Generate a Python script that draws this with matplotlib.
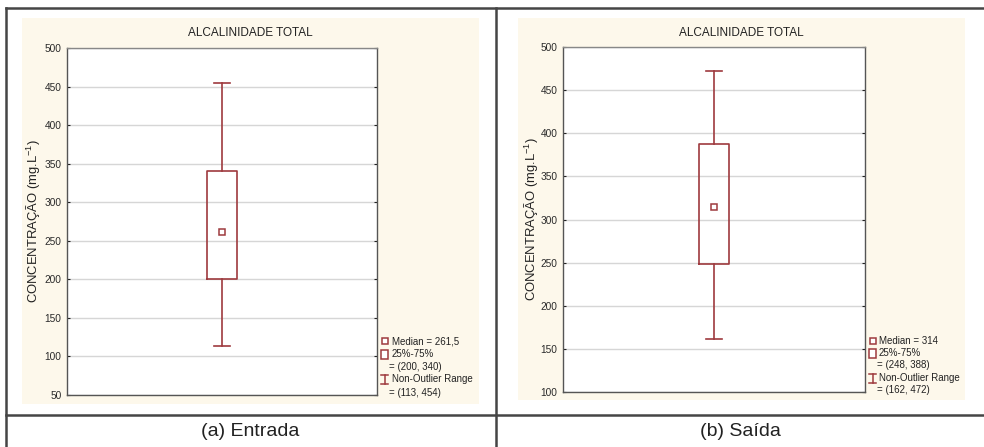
import matplotlib
matplotlib.use("Agg")
import matplotlib.pyplot as plt
from matplotlib.patches import Rectangle
from matplotlib.lines import Line2D

plt.rcParams['font.family'] = ['Liberation Sans', 'DejaVu Sans']

# data
panels = ['(a) Entrada', '(b) Saída']
chart_title = 'ALCALINIDADE TOTAL'
y_label = r'CONCENTRAÇÃO (mg.L$\mathregular{^{-1}}$)'
medians = [261.5, 314]
q1 = [200, 248]
q3 = [340, 388]
whisker_lo = [113, 162]
whisker_hi = [454, 472]
median_labels = ['261,5', '314']
ylims = [(50, 500), (100, 500)]
yticks = [list(range(50, 501, 50)), list(range(100, 501, 50))]

RED = '#9e3a3e'
CREAM = '#fdf8eb'
W, H = 984, 447


def fx(px):
    return px / W


def fy(py):
    return 1 - py / H


fig = plt.figure(figsize=(9.84, 4.47), dpi=100)
fig.patch.set_facecolor('white')

# layout per panel (pixels)
layout = [
    dict(bg=(22, 18, 479, 404), ax=(67, 48, 377, 395), ylab_x=33.5, box_w=0.19,
         leg_sym=384.5, leg_x=392, leg_x2=389, leg_y=[341, 354, 367, 379, 393]),
    dict(bg=(518, 18, 965, 400), ax=(563, 47, 865, 392), ylab_x=532, box_w=0.2,
         leg_sym=872.5, leg_x=879, leg_x2=877, leg_y=[341, 353, 365, 378, 390]),
]

for i, lay in enumerate(layout):
    x0, y0, x1, y1 = lay['bg']
    fig.add_artist(Rectangle((fx(x0), fy(y1)), fx(x1 - x0), (y1 - y0) / H,
                             transform=fig.transFigure, facecolor=CREAM,
                             edgecolor='none', zorder=0))
    ax0, ay0, ax1, ay1 = lay['ax']
    ax = fig.add_axes([fx(ax0), fy(ay1), fx(ax1 - ax0), (ay1 - ay0) / H])
    ax.set_facecolor('white')

    stats = [dict(med=medians[i], q1=q1[i], q3=q3[i],
                  whislo=whisker_lo[i], whishi=whisker_hi[i], fliers=[])]
    ax.bxp(stats, positions=[1], widths=lay['box_w'], capwidths=0.1,
           showfliers=False,
           boxprops=dict(color=RED, linewidth=1.2),
           whiskerprops=dict(color=RED, linewidth=1.2),
           capprops=dict(color=RED, linewidth=1.2),
           medianprops=dict(visible=False))
    ax.plot([1], [medians[i]], marker='s', markersize=3.8, markerfacecolor='white',
            markeredgecolor=RED, markeredgewidth=1.1, linestyle='none')

    ax.set_xlim(0, 2)
    ax.set_ylim(*ylims[i])
    ax.set_yticks(yticks[i])
    ax.set_xticks([])
    ax.yaxis.grid(True, color='#d6d6d6', linewidth=1)
    ax.set_axisbelow(True)
    ax.tick_params(axis='y', direction='in', length=2, right=True, left=True,
                   labelsize=7.3, labelcolor='#2a2a2a', color='#222222', pad=4)
    for s in ax.spines.values():
        s.set_color('#555555')
        s.set_linewidth(1)
    ax.spines['top'].set_color('#888888')

    fig.text(fx((x0 + x1) / 2), fy(33), chart_title, ha='center', va='center',
             fontsize=8.5, color='#222222')
    fig.text(fx(lay['ylab_x']), fy((ay0 + ay1) / 2), y_label, rotation=90,
             ha='center', va='center', fontsize=9.4, color='#222222')

    # legend
    ly = lay['leg_y']
    sx = lay['leg_sym']
    fig.add_artist(Line2D([fx(sx)], [fy(ly[0])], transform=fig.transFigure,
                          marker='s', markersize=3.8, markerfacecolor='white',
                          markeredgecolor=RED, markeredgewidth=1.1, linestyle='none'))
    fig.add_artist(Rectangle((fx(sx - 3.5), fy(ly[1] + 4.5)), fx(7), 9 / H,
                             transform=fig.transFigure, facecolor='white',
                             edgecolor=RED, linewidth=1.1))
    fig.add_artist(Line2D([fx(sx), fx(sx)], [fy(ly[3] - 4.5), fy(ly[3] + 4.5)],
                          transform=fig.transFigure, color=RED, linewidth=1.1))
    for yy in (ly[3] - 4.5, ly[3] + 4.5):
        fig.add_artist(Line2D([fx(sx - 3.5), fx(sx + 3.5)], [fy(yy), fy(yy)],
                              transform=fig.transFigure, color=RED, linewidth=1.1))
    leg_lines = [
        (lay['leg_x'], 'Median = ' + median_labels[i]),
        (lay['leg_x'], '25%-75%'),
        (lay['leg_x2'], '= (%d, %d)' % (q1[i], q3[i])),
        (lay['leg_x'], 'Non-Outlier Range'),
        (lay['leg_x2'], '= (%d, %d)' % (whisker_lo[i], whisker_hi[i])),
    ]
    for (tx, txt), yy in zip(leg_lines, ly):
        fig.text(fx(tx), fy(yy), txt, ha='left', va='center', fontsize=7,
                 color='#222222')

    fig.text(fx((x0 + x1) / 2 + (0 if i == 0 else -1)), fy(431), panels[i],
             ha='center', va='center', fontsize=14, color='#222222')

# table borders
border = dict(transform=fig.transFigure, color='#454545', linewidth=1.8)
fig.add_artist(Line2D([fx(5.5), 1], [fy(7.5), fy(7.5)], **border))
fig.add_artist(Line2D([fx(5.5), fx(5.5)], [0, fy(7.5)], **border))
fig.add_artist(Line2D([fx(496), fx(496)], [0, fy(7.5)], **border))
fig.add_artist(Line2D([fx(5.5), 1], [fy(415), fy(415)], **border))

fig.savefig('out.png', dpi=100)
